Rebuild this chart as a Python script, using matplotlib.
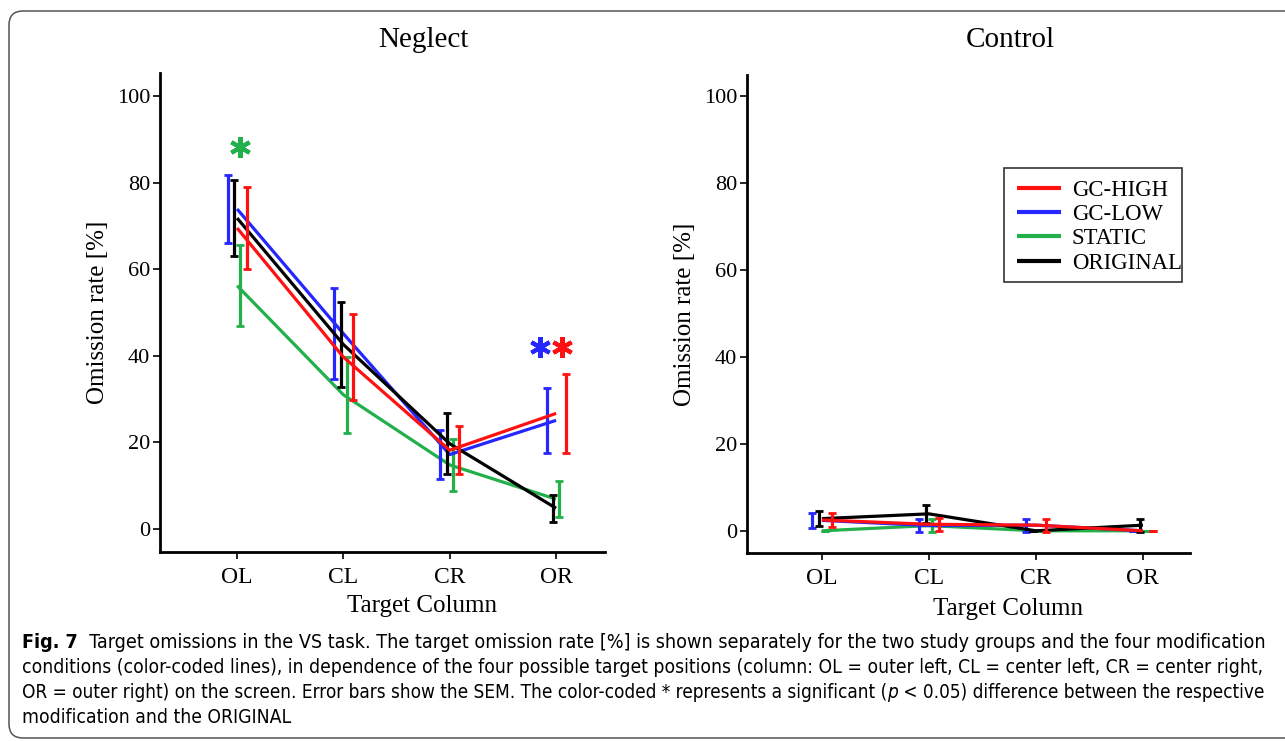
import matplotlib
matplotlib.use('Agg')
import matplotlib.pyplot as plt
import numpy as np
from matplotlib.patches import FancyBboxPatch, Rectangle
from matplotlib.transforms import IdentityTransform

# Target columns and modification conditions
columns = ['OL', 'CL', 'CR', 'OR']
conditions = ['GC-HIGH', 'GC-LOW', 'STATIC', 'ORIGINAL']

# Omission rate [%] (mean) and SEM
neglect_high = [69.5, 39.7, 18.2, 26.7]
neglect_high_sem = [9.4, 9.9, 5.5, 9.1]
neglect_low = [73.9, 45.1, 17.2, 25.1]
neglect_low_sem = [7.8, 10.5, 5.7, 7.5]
neglect_static = [56.2, 31.0, 14.8, 6.9]
neglect_static_sem = [9.3, 8.8, 6.0, 4.2]
neglect_orig = [71.8, 42.6, 19.7, 4.8]
neglect_orig_sem = [8.8, 9.8, 7.0, 3.1]

control_high = [2.5, 1.5, 1.3, 0.0]
control_high_sem = [1.7, 1.5, 1.5, 0.0]
control_low = [2.4, 1.2, 1.3, 0.0]
control_low_sem = [1.7, 1.5, 1.5, 0.0]
control_static = [0.0, 1.2, 0.0, 0.0]
control_static_sem = [0.0, 1.5, 0.0, 0.0]
control_orig = [2.8, 3.9, 0.0, 1.3]
control_orig_sem = [1.7, 2.0, 0.0, 1.5]

# significant differences vs ORIGINAL (condition, column, height of the *)
neglect_sig = [('STATIC', 'OL', 88.2), ('GC-LOW', 'OR', 42.0), ('GC-HIGH', 'OR', 42.0)]

colors = {'GC-HIGH': '#ff1111', 'GC-LOW': '#2626ff', 'STATIC': '#22b04b', 'ORIGINAL': '#000000'}
bar_offset = {'GC-HIGH': 0.09, 'GC-LOW': -0.09, 'STATIC': 0.03, 'ORIGINAL': -0.025}
star_offset = {'GC-HIGH': 0.06, 'GC-LOW': -0.15, 'STATIC': 0.03, 'ORIGINAL': 0.0}
zorders = {'STATIC': 2, 'GC-LOW': 3, 'ORIGINAL': 4, 'GC-HIGH': 5}

serif = 'Liberation Serif'

neglect = {'GC-HIGH': (neglect_high, neglect_high_sem), 'GC-LOW': (neglect_low, neglect_low_sem),
           'STATIC': (neglect_static, neglect_static_sem), 'ORIGINAL': (neglect_orig, neglect_orig_sem)}
control = {'GC-HIGH': (control_high, control_high_sem), 'GC-LOW': (control_low, control_low_sem),
           'STATIC': (control_static, control_static_sem), 'ORIGINAL': (control_orig, control_orig_sem)}

fig = plt.figure(figsize=(12.85, 7.41), dpi=100)
W, H = 1285.0, 741.0

def px_axes(x0, y0, x1, y1):
    # axes from pixel box (top-left origin)
    return fig.add_axes([x0 / W, 1 - y1 / H, (x1 - x0) / W, (y1 - y0) / H])

ax1 = px_axes(160, 73, 605, 552)
ax2 = px_axes(747, 75, 1190, 553)

def draw_panel(ax, data, xlim, ylim):
    x = np.arange(1, len(columns) + 1)
    for cond in conditions:
        mean, sem = data[cond]
        c = colors[cond]
        ax.plot(x, mean, color=c, lw=2.3, zorder=zorders[cond], solid_capstyle='butt', label=cond)
        ax.errorbar(x + bar_offset[cond], mean, yerr=sem, fmt='none', ecolor=c,
                    elinewidth=2.3, capsize=3, capthick=2.0, zorder=zorders[cond])
    ax.set_xlim(*xlim)
    ax.set_ylim(*ylim)
    ax.set_xticks(x)
    ax.set_xticklabels(columns, fontsize=17, family=serif)
    ax.set_yticks([0, 20, 40, 60, 80, 100])
    ax.set_yticklabels(['0', '20', '40', '60', '80', '100'], fontsize=16, family=serif)
    for s in ['top', 'right']:
        ax.spines[s].set_visible(False)
    for s in ['left', 'bottom']:
        ax.spines[s].set_linewidth(2.0)
    ax.tick_params(direction='out', length=5, width=1.2, pad=2)
    ax.tick_params(axis='x', pad=6)
    ax.set_ylabel('Omission rate [%]', fontsize=18, family=serif, labelpad=6)

draw_panel(ax1, neglect, (0.275, 4.46), (-5.3, 105.3))
draw_panel(ax2, control, (0.30, 4.44), (-5.1, 104.8))

# significance asterisks
for cond, col, yv in neglect_sig:
    xi = columns.index(col) + 1 + star_offset[cond]
    ax1.plot([xi], [yv], marker=(6, 2, 0), ms=15, mew=3.0, color=colors[cond],
             linestyle='none', clip_on=False)

# panel titles and x labels
fig.text(423 / W, 1 - 40 / H, 'Neglect', fontsize=21, family=serif, ha='center', va='center')
fig.text(1010 / W, 1 - 40 / H, 'Control', fontsize=21, family=serif, ha='center', va='center')
fig.text(422 / W, 1 - 606 / H, 'Target Column', fontsize=18, family=serif, ha='center', va='center')
fig.text(1008 / W, 1 - 609 / H, 'Target Column', fontsize=18, family=serif, ha='center', va='center')

# legend on the control panel (frame drawn separately, text runs up to its right edge)
handles, labels = ax2.get_legend_handles_labels()
leg = ax2.legend(handles, labels, loc='upper left', bbox_to_anchor=(1017 / W, 1 - 180 / H),
                 bbox_transform=fig.transFigure, borderaxespad=0, frameon=False,
                 prop={'family': serif, 'size': 16.4}, handlelength=1.95, handletextpad=0.45,
                 labelspacing=0.14, borderpad=0)
for line in leg.get_lines():
    line.set_linewidth(3.0)
fig.add_artist(Rectangle((1004, H - 282), 178, 114, transform=IdentityTransform(),
                         fill=False, edgecolor='#333333', lw=1.2))

# rounded frame around the figure
frame = FancyBboxPatch((9, 3), 1400, H - 14, boxstyle='round,pad=0,rounding_size=14',
                       transform=IdentityTransform(), fill=False, edgecolor='#555555', lw=1.1)
fig.add_artist(frame)

# caption (condensed sans, each line fitted to the width of the original)
cap_font = ['DejaVu Sans']
line_y = [648, 673, 698, 723]
line_size = [14.1, 13.9, 13.55, 13.9]

def caption_pieces(pieces, y, size):
    prev = None
    for txt, style in pieces:
        kw = dict(fontsize=size, family=cap_font, va='baseline', ha='left',
                  fontstretch='condensed')
        if style == 'bold':
            kw['fontweight'] = 'bold'
        if style == 'italic':
            kw['fontstyle'] = 'italic'
        if prev is None:
            prev = fig.text(22 / W, 1 - y / H, txt, **kw)
        else:
            prev = ax1.annotate(txt, xy=(1, 1 - y / H), xycoords=(prev, 'figure fraction'),
                                annotation_clip=False, **kw)

caption_pieces([('Fig. 7', 'bold'),
                ('  Target omissions in the VS task. The target omission rate [%] is shown separately for the two study groups and the four modification', 'normal')],
               line_y[0], line_size[0])
caption_pieces([('conditions (color-coded lines), in dependence of the four possible target positions (column: OL = outer left, CL = center left, CR = center right,', 'normal')],
               line_y[1], line_size[1])
caption_pieces([('OR = outer right) on the screen. Error bars show the SEM. The color-coded * represents a significant (', 'normal'),
                ('p', 'italic'),
                (' < 0.05) difference between the respective', 'normal')],
               line_y[2], line_size[2])
caption_pieces([('modification and the ORIGINAL', 'normal')], line_y[3], line_size[3])

fig.savefig('out.png', dpi=100)
